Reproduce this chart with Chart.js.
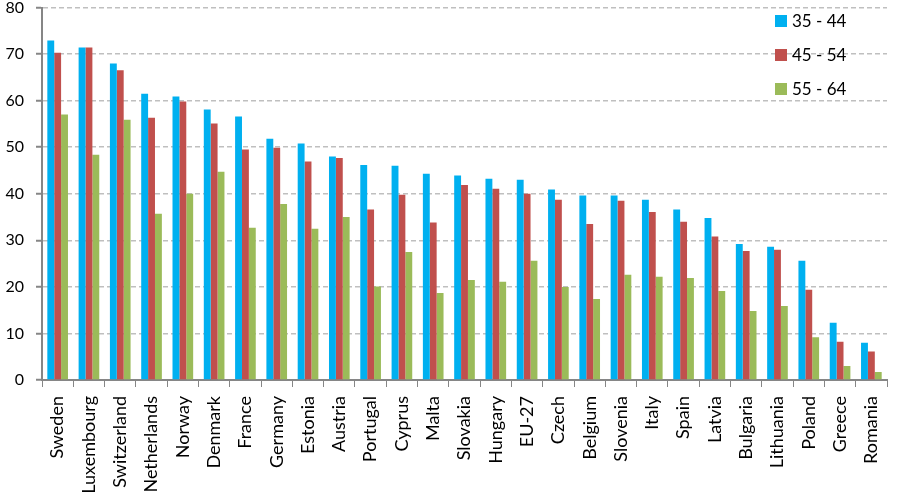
<!DOCTYPE html>
<html>
<head>
<meta charset="utf-8">
<script src="https://cdn.jsdelivr.net/npm/chart.js@4/dist/chart.umd.min.js"></script>
<style>
  html, body { margin: 0; padding: 0; background: #fff; }
  #wrap { width: 902px; height: 498px; }
</style>
</head>
<body>
<div id="wrap"><canvas id="myChart" width="902" height="498"></canvas></div>
<script>
var countries = ['Sweden', 'Luxembourg', 'Switzerland', 'Netherlands', 'Norway', 'Denmark', 'France',
  'Germany', 'Estonia', 'Austria', 'Portugal', 'Cyprus', 'Malta', 'Slovakia', 'Hungary', 'EU-27',
  'Czech', 'Belgium', 'Slovenia', 'Italy', 'Spain', 'Latvia', 'Bulgaria', 'Lithuania', 'Poland',
  'Greece', 'Romania'];

var age35to44 = [72.9, 71.4, 68.0, 61.5, 60.9, 58.1, 56.6, 51.8, 50.8, 48.0, 46.2, 46.0, 44.3, 43.9,
  43.2, 43.0, 40.9, 39.6, 39.6, 38.7, 36.6, 34.8, 29.2, 28.6, 25.6, 12.3, 8.0];
var age45to54 = [70.3, 71.4, 66.5, 56.3, 59.8, 55.1, 49.5, 49.9, 46.9, 47.7, 36.6, 39.8, 33.8, 41.9,
  41.1, 40.0, 38.7, 33.5, 38.5, 36.1, 34.0, 30.8, 27.7, 28.0, 19.4, 8.2, 6.1];
var age55to64 = [57.0, 48.4, 55.9, 35.7, 40.0, 44.7, 32.7, 37.8, 32.5, 35.0, 20.1, 27.5, 18.7, 21.5,
  21.1, 25.6, 20.0, 17.4, 22.6, 22.2, 21.9, 19.1, 14.8, 15.9, 9.2, 3.0, 1.7];

var seriesNames = ['35 - 44', '45 - 54', '55 - 64'];
var yTicks = [0, 10, 20, 30, 40, 50, 60, 70, 80];

var chartColors = {
  blue: '#00B0F0',
  red: '#C0504D',
  green: '#9BBB59',
  axis: '#868686',
  grid: '#BFBFBF'
};

// legend drawn inside the plot, top right
var cornerLegend = {
  id: 'cornerLegend',
  afterDraw: function(chart) {
    var ctx = chart.ctx;
    ctx.save();
    ctx.font = '17px Lato';
    ctx.textBaseline = 'middle';
    chart.data.datasets.forEach(function(ds, i) {
      var y = 21 + i * 34;
      ctx.fillStyle = ds.backgroundColor;
      ctx.fillRect(775, y - 6, 12, 12);
      ctx.fillStyle = '#000';
      ctx.fillText(ds.label, 792, y + 1);
    });
    ctx.restore();
  }
};

var ctxChart = document.getElementById('myChart').getContext('2d');
var chart = new Chart(ctxChart, {
  type: 'bar',
  data: {
    labels: countries,
    datasets: [
      { label: seriesNames[0], data: age35to44, backgroundColor: chartColors.blue },
      { label: seriesNames[1], data: age45to54, backgroundColor: chartColors.red },
      { label: seriesNames[2], data: age55to64, backgroundColor: chartColors.green }
    ]
  },
  options: {
    responsive: false,
    animation: false,
    layout: { padding: { top: 0, right: 2, left: 0, bottom: 0 } },
    datasets: { bar: { categoryPercentage: 0.66, barPercentage: 1.0 } },
    plugins: {
      legend: { display: false },
      tooltip: { enabled: false }
    },
    scales: {
      x: {
        offset: true,
        grid: {
          offset: true,
          drawOnChartArea: false,
          drawTicks: true,
          tickLength: 7,
          color: chartColors.axis
        },
        border: { color: chartColors.axis, width: 2 },
        ticks: {
          color: '#000',
          font: { family: 'Lato', size: 18 },
          minRotation: 90,
          maxRotation: 90,
          autoSkip: false,
          padding: 9
        },
        afterFit: function(scale) { scale.height = 118; }
      },
      y: {
        min: 0,
        max: 80,
        afterBuildTicks: function(scale) {
          scale.ticks = yTicks.map(function(v) { return { value: v }; });
        },
        grid: {
          color: chartColors.grid,
          lineWidth: 1.5,
          tickColor: chartColors.axis,
          tickLength: 6,
          tickBorderDash: [],
          tickWidth: 2
        },
        border: { color: chartColors.axis, width: 2, dash: [5, 3] },
        ticks: {
          color: '#000',
          font: { family: 'Lato', size: 16 },
          padding: 12
        },
        afterFit: function(scale) {
          scale.width = 42;
          scale.paddingTop = 7.5;
          scale.paddingBottom = 0;
        }
      }
    }
  },
  plugins: [cornerLegend]
});
</script>
</body>
</html>
